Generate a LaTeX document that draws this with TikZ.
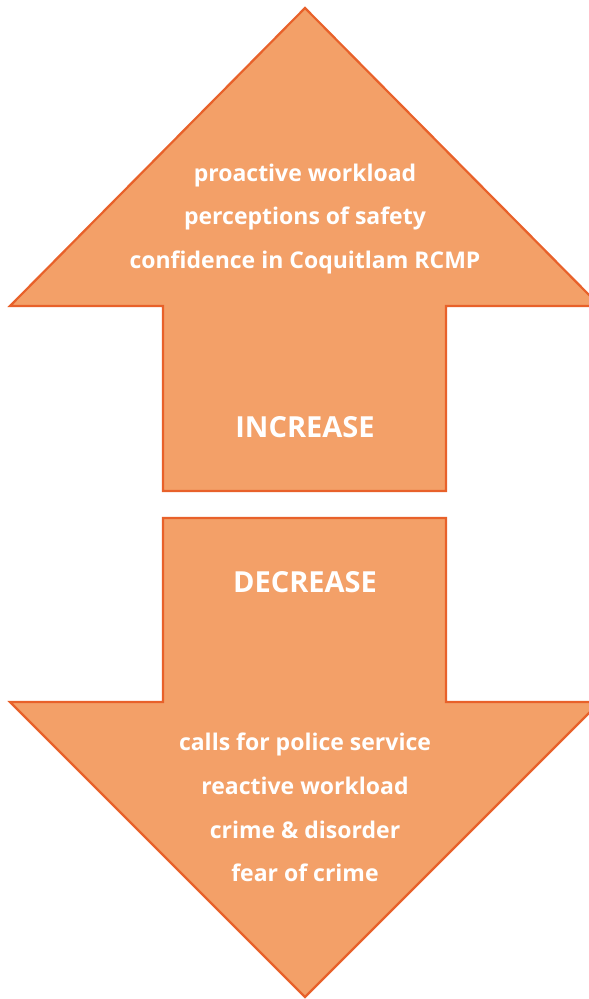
\documentclass[tikz,border=0pt]{standalone}
\usepackage{fontspec}
\setmainfont{Open Sans}
\definecolor{arrfill}{HTML}{F3A068}
\definecolor{arredge}{HTML}{E8612A}
\begin{document}
\begin{tikzpicture}[x=1pt,y=-1pt,
  arrowshape/.style={fill=arrfill,draw=arredge,line width=2.2pt,line join=miter},
  itemtext/.style={text=white,font=\bfseries\fontsize{23}{27}\selectfont,anchor=base},
  headtext/.style={text=white,font=\bfseries\fontsize{29}{33}\selectfont,anchor=base}]
\useasboundingbox (0,0) rectangle (589,999);
\clip (0,0) rectangle (589,999);
\draw[arrowshape] (305,8) -- (600,306) -- (446,306) -- (446,491) -- (163,491) -- (163,306) -- (10,306) -- cycle;
\draw[arrowshape] (163,518) -- (446,518) -- (446,702) -- (600,702) -- (305,997) -- (10,702) -- (163,702) -- cycle;
\node[itemtext] (u1) at (305,181) {proactive workload};
\node[itemtext] (u2) at (305,224) {perceptions of safety};
\node[itemtext] (u3) at (305,268) {confidence in Coquitlam RCMP};
\node[headtext] (inc) at (305,437) {INCREASE};
\node[headtext] (dec) at (305,592) {DECREASE};
\node[itemtext] (d1) at (305,750) {calls for police service};
\node[itemtext] (d2) at (305,794) {reactive workload};
\node[itemtext] (d3) at (305,838) {crime \& disorder};
\node[itemtext] (d4) at (305,881) {fear of crime};
\end{tikzpicture}
\end{document}
